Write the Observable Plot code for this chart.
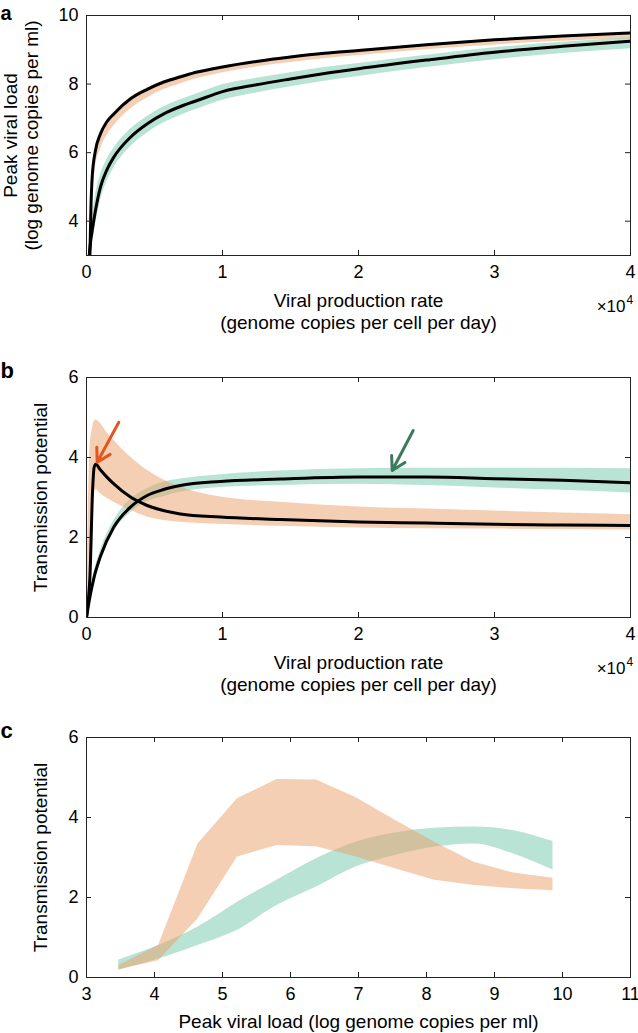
<!DOCTYPE html>
<html><head><meta charset="utf-8">
<script src="https://cdn.jsdelivr.net/npm/d3@7"></script>
<script src="https://cdn.jsdelivr.net/npm/@observablehq/plot@0.6"></script>
<style>
body{margin:0;background:#fff;}
#chart{width:638px;}
#chart svg{display:block;}
</style></head><body><div id="chart"></div>
<script>
// ---------- Panel a: peak viral load vs viral production rate ----------
const aRateUpper = [250, 320, 420, 660, 1030, 1500, 2010, 3235, 4500, 5680, 7000, 8140, 10000, 12500, 15000, 17500, 20000, 25000, 30000, 35000, 40000];
const aLoadUpper = [3.0, 4.3, 5.3, 6.06, 6.55, 6.9, 7.13, 7.57, 7.85, 8.06, 8.22, 8.35, 8.50, 8.66, 8.79, 8.90, 8.98, 9.15, 9.29, 9.40, 9.49];
const aUpperBandLo = [3.0, 3.6, 4.5, 5.55, 6.1, 6.5, 6.78, 7.27, 7.6, 7.84, 8.02, 8.16, 8.33, 8.5, 8.63, 8.74, 8.83, 9.0, 9.14, 9.25, 9.32];
const aUpperBandHi = [3.0, 4.4, 5.4, 6.12, 6.6, 6.95, 7.18, 7.61, 7.89, 8.09, 8.25, 8.37, 8.52, 8.68, 8.81, 8.92, 9.0, 9.17, 9.31, 9.42, 9.50];

const aRateLower = [200, 300, 420, 660, 1030, 1500, 2010, 3235, 4500, 5680, 7000, 8140, 10000, 12500, 15000, 17500, 20000, 25000, 30000, 35000, 40000];
const aLoadLower = [3.0, 3.4, 3.73, 4.31, 5.0, 5.5, 5.87, 6.45, 6.85, 7.13, 7.36, 7.52, 7.78, 7.98, 8.15, 8.31, 8.45, 8.70, 8.93, 9.10, 9.25];
const aLowerBandLo = [3.0, 3.0, 3.3, 3.9, 4.6, 5.15, 5.55, 6.17, 6.58, 6.87, 7.1, 7.27, 7.53, 7.74, 7.92, 8.08, 8.22, 8.48, 8.71, 8.89, 9.03];
const aLowerBandHi = [3.2, 3.7, 4.1, 4.75, 5.35, 5.8, 6.13, 6.68, 7.06, 7.34, 7.56, 7.72, 7.98, 8.17, 8.33, 8.48, 8.6, 8.84, 9.06, 9.22, 9.35];

// ---------- Panel b: transmission potential vs viral production rate ----------
const bRateOrange = [0, 150, 250, 450, 560, 680, 1000, 1500, 2010, 3235, 4460, 6900, 9850, 14260, 20000, 25000, 30000, 35000, 40000];
const bLineOrange = [0, 0.5, 1.0, 3.2, 3.75, 3.83, 3.7, 3.51, 3.34, 3.01, 2.80, 2.59, 2.51, 2.45, 2.39, 2.36, 2.33, 2.31, 2.30];
const bBandOrangeLo = [0, 0.1, 0.3, 2.4, 3.1, 3.2, 3.1, 2.98, 2.88, 2.68, 2.51, 2.38, 2.33, 2.28, 2.24, 2.22, 2.21, 2.20, 2.19];
const bBandOrangeHi = [0, 3.0, 4.2, 4.75, 4.9, 4.94, 4.86, 4.62, 4.43, 4.01, 3.68, 3.26, 3.01, 2.88, 2.76, 2.71, 2.66, 2.61, 2.57];

const bRateTeal = [0, 150, 300, 540, 1030, 2010, 3235, 4460, 5660, 6900, 9850, 14260, 20000, 25000, 30000, 35000, 40000];
const bLineTeal = [0, 0.32, 0.6, 0.98, 1.53, 2.26, 2.76, 3.05, 3.20, 3.30, 3.40, 3.46, 3.51, 3.51, 3.47, 3.43, 3.37];
const bBandTealLo = [0, 0.22, 0.5, 0.88, 1.42, 2.14, 2.62, 2.9, 3.02, 3.13, 3.25, 3.30, 3.33, 3.30, 3.24, 3.18, 3.11];
const bBandTealHi = [0, 0.42, 0.72, 1.1, 1.68, 2.42, 2.95, 3.22, 3.38, 3.46, 3.57, 3.66, 3.72, 3.73, 3.73, 3.73, 3.72];

// arrows in panel b: [tailRate, tailValue, tipRate, tipValue]
const bArrowOrange = [2375, 4.88, 787, 3.88];
const bArrowGreen = [24022, 4.675, 22478, 3.675];

// ---------- Panel c: transmission potential vs peak viral load ----------
const cLoad = [3.475, 4.06, 4.64, 5.22, 5.80, 6.38, 6.96, 7.54, 8.12, 8.70, 9.28, 9.86];
const cOrangeLo = [0.19, 0.42, 1.47, 3.01, 3.30, 3.27, 3.02, 2.72, 2.43, 2.30, 2.22, 2.17];
const cOrangeHi = [0.30, 0.80, 3.34, 4.47, 4.95, 4.94, 4.50, 3.93, 3.38, 2.88, 2.61, 2.48];
const cTealLo = [0.19, 0.46, 0.80, 1.18, 1.80, 2.26, 2.76, 3.05, 3.26, 3.34, 3.09, 2.69];
const cTealHi = [0.44, 0.80, 1.26, 1.88, 2.43, 2.97, 3.38, 3.61, 3.73, 3.76, 3.67, 3.40];

// tick values
const rateTicks = [0, 10000, 20000, 30000, 40000];
const aLoadTicks = [4, 6, 8, 10];
const tpTicks = [0, 2, 4, 6];
const cLoadTicks = [3, 4, 5, 6, 7, 8, 9, 10, 11];

const ORANGE = "#e99f67", TEAL = "#71c7ab", FILL_OP = 0.5;
const FONT = "'Liberation Sans', Arial, Helvetica, sans-serif";

const rows = (xs, ...cols) => xs.map((x, i) => ({x, a: cols[0] && cols[0][i], b: cols[1] && cols[1][i]}));

function panel({height, mt, mb, xDomain, xTicks, xFmt, yDomain, yTicks, marks}) {
  const ML = 86, MR = 8;
  const innerW = 638 - ML - MR, innerH = height - mt - mb;
  return Plot.plot({
    width: 638, height, marginLeft: ML, marginRight: MR, marginTop: mt, marginBottom: mb,
    style: {fontFamily: FONT, fontSize: "18px", color: "#000", background: "#fff", overflow: "visible"},
    x: {domain: xDomain},
    y: {domain: yDomain},
    marks: [
      ...marks,
      Plot.frame({stroke: "#222", strokeWidth: 1}),
      Plot.tickX(xTicks, {x: d => d, insetTop: innerH - 5, stroke: "#222"}),
      Plot.tickX(xTicks, {x: d => d, insetBottom: innerH - 5, stroke: "#222"}),
      Plot.tickY(yTicks, {y: d => d, insetRight: innerW - 5, stroke: "#222"}),
      Plot.tickY(yTicks, {y: d => d, insetLeft: innerW - 5, stroke: "#222"}),
      Plot.axisX(xTicks, {tickSize: 0, tickPadding: 10, tickFormat: xFmt, label: null}),
      Plot.axisY(yTicks, {tickSize: 0, tickPadding: 8, label: null})
    ]
  });
}

const band = (data, fill) => Plot.areaY(data, {x: "x", y1: "a", y2: "b", fill, fillOpacity: FILL_OP, curve: "monotone-x", clip: true});
const blackLine = (data) => Plot.line(data, {x: "x", y: "a", stroke: "#000", strokeWidth: 3, curve: "monotone-x", clip: true});
const txt = (s, o) => Plot.text([s], {text: d => d, ...o});
const rateFmt = d => String(d / 10000);
const xLabelRate = [
  txt("Viral production rate\n(genome copies per cell per day)", {frameAnchor: "bottom", lineAnchor: "bottom", dy: 73, fontSize: 19, lineHeight: 22 / 19}),
  txt("×10", {frameAnchor: "bottom-right", textAnchor: "end", lineAnchor: "bottom", dx: -5, dy: 56, fontSize: 17}),
  txt("4", {frameAnchor: "bottom-right", textAnchor: "start", lineAnchor: "bottom", dx: -4, dy: 48, fontSize: 12})
];

const chart = document.getElementById("chart");

// Panel a
chart.appendChild(panel({
  height: 340, mt: 15, mb: 85,
  xDomain: [0, 40000], xTicks: rateTicks, xFmt: rateFmt,
  yDomain: [3, 10], yTicks: aLoadTicks,
  marks: [
    band(rows(aRateUpper, aUpperBandLo, aUpperBandHi), ORANGE),
    band(rows(aRateLower, aLowerBandLo, aLowerBandHi), TEAL),
    blackLine(rows(aRateUpper, aLoadUpper)),
    blackLine(rows(aRateLower, aLoadLower)),
    ...xLabelRate,
    txt("Peak viral load\n(log genome copies per ml)", {frameAnchor: "left", rotate: -90, textAnchor: "middle", lineAnchor: "bottom", dx: -49, fontSize: 19, lineHeight: 21 / 19}),
    txt("a", {frameAnchor: "top-left", textAnchor: "start", lineAnchor: "bottom", dx: -86, dy: 4, fontSize: 20, fontWeight: "bold"})
  ]
}));

// Panel b
const arrowRow = (v) => [{x1: v[0], y1: v[1], x2: v[2], y2: v[3]}];
chart.appendChild(panel({
  height: 360, mt: 37, mb: 83,
  xDomain: [0, 40000], xTicks: rateTicks, xFmt: rateFmt,
  yDomain: [0, 6], yTicks: tpTicks,
  marks: [
    band(rows(bRateTeal, bBandTealLo, bBandTealHi), TEAL),
    band(rows(bRateOrange, bBandOrangeLo, bBandOrangeHi), ORANGE),
    blackLine(rows(bRateTeal, bLineTeal)),
    blackLine(rows(bRateOrange, bLineOrange)),
    Plot.arrow(arrowRow(bArrowOrange), {x1: "x1", y1: "y1", x2: "x2", y2: "y2", stroke: "#e2561f", strokeWidth: 3, headLength: 11, headAngle: 60}),
    Plot.arrow(arrowRow(bArrowGreen), {x1: "x1", y1: "y1", x2: "x2", y2: "y2", stroke: "#3d7a5c", strokeWidth: 3, headLength: 11, headAngle: 60}),
    ...xLabelRate,
    txt("Transmission potential", {frameAnchor: "left", rotate: -90, textAnchor: "middle", lineAnchor: "bottom", dx: -40, fontSize: 19}),
    txt("b", {frameAnchor: "top-left", textAnchor: "start", lineAnchor: "bottom", dx: -86, dy: 0, fontSize: 22, fontWeight: "bold"})
  ]
}));

// Panel c
chart.appendChild(panel({
  height: 333, mt: 37, mb: 56,
  xDomain: [3, 11], xTicks: cLoadTicks, xFmt: d => String(d),
  yDomain: [0, 6], yTicks: tpTicks,
  marks: [
    band(rows(cLoad, cTealLo, cTealHi), TEAL),
    Plot.areaY(rows(cLoad, cOrangeLo, cOrangeHi), {x: "x", y1: "a", y2: "b", fill: ORANGE, fillOpacity: FILL_OP}),
    txt("Peak viral load (log genome copies per ml)", {frameAnchor: "bottom", lineAnchor: "bottom", dy: 50, fontSize: 19}),
    txt("Transmission potential", {frameAnchor: "left", rotate: -90, textAnchor: "middle", lineAnchor: "bottom", dx: -40, fontSize: 19}),
    txt("c", {frameAnchor: "top-left", textAnchor: "start", lineAnchor: "bottom", dx: -86, dy: 0, fontSize: 22, fontWeight: "bold"})
  ]
}));
</script>
</body></html>
